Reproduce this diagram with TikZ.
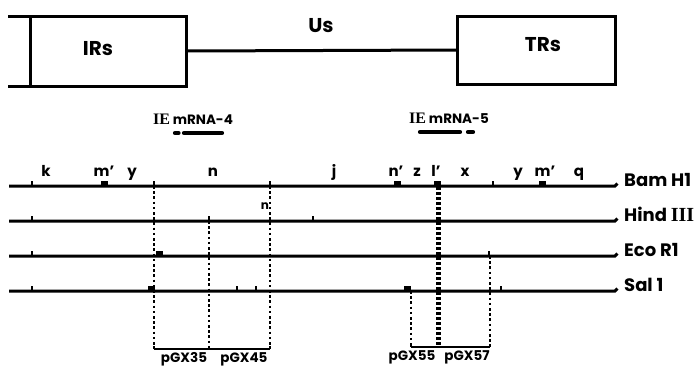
\documentclass[tikz,border=0pt]{standalone}
\usepackage{fontspec}
\setsansfont{Poppins}
\newfontfamily\romnum{Liberation Serif}
\begin{document}
\begin{tikzpicture}[x=1pt,y=-1pt,
  box/.style={draw, line width=3pt, inner sep=0pt, outer sep=0pt},
  bigtxt/.style={font=\sffamily\bfseries\fontsize{20}{20}\selectfont, inner sep=0pt},
  enzyme/.style={font=\sffamily\bfseries\fontsize{18}{18}\selectfont, inner sep=0pt, anchor=base west},
  frag/.style={font=\sffamily\bfseries\fontsize{15}{15}\selectfont, inner sep=0pt, anchor=base},
  clone/.style={font=\sffamily\bfseries\fontsize{13.5}{13.5}\selectfont, inner sep=0pt, anchor=base},
  small/.style={font=\sffamily\bfseries\fontsize{13.5}{13.5}\selectfont, inner sep=0pt, anchor=base},
  rail/.style={line width=3pt},
  tickmark/.style={line width=2.2pt},
  dots/.style={line width=2.6pt, dash pattern=on 2.6pt off 2.6pt},
  bigdots/.style={line width=5pt, dash pattern=on 3pt off 2pt},
  mrna/.style={line width=4.2pt, line cap=round}]
\useasboundingbox (0,0) rectangle (699,368);

% ---- genome: repeats and unique segment ----
\node[box, minimum width=156pt, minimum height=70pt] (IRs) at (108,51) {};
\node[box, minimum width=158pt, minimum height=68pt] (TRs) at (536,50) {};
\node[bigtxt] (IRsT) at (98,49) {IRs};
\node[bigtxt] (TRsT) at (543,45) {TRs};
\node[bigtxt, anchor=base] (Us) at (321,32) {Us};
\draw[line width=3pt] (IRs.east) -- (TRs.west);
\coordinate (t0) at (8,16);
\coordinate (b0) at (8,86);
\draw[line width=3pt] (t0) -- (IRs.north west);
\draw[line width=3pt] (b0) -- (IRs.south west);

% ---- IE transcripts ----
\node[small] (m4) at (193,124) {{\romnum\bfseries\fontsize{16}{16}\selectfont IE} mRNA-4};
\node[small] (m5) at (449,123) {{\romnum\bfseries\fontsize{16}{16}\selectfont IE} mRNA-5};
\coordinate (a1) at (175,133); \coordinate (a2) at (178.5,133);
\coordinate (a3) at (184,133); \coordinate (a4) at (222,133);
\coordinate (c1) at (420,132); \coordinate (c2) at (460,132);
\coordinate (c3) at (468,132); \coordinate (c4) at (473,132);
\draw[mrna] (a1) -- (a2);
\draw[mrna] (a3) -- (a4);
\draw[mrna] (c1) -- (c2);
\draw[mrna] (c3) -- (c4);

% ---- Bam H1 fragment names ----
\foreach \x/\t in {46/k, 104/m', 132/y, 213/n, 334/j, 396/n', 417/z, 436/l', 465/x, 518/y, 545/m', 579/q}
  \node[frag] at (\x,176) {\t};

% ---- restriction maps ----
\foreach \nm/\y/\lab in {bam/186/Bam H1, hind/221/Hind {\romnum\bfseries\fontsize{20}{20}\selectfont III}, eco/256/Eco R1, sal/291/Sal 1}{
  \coordinate (\nm L) at (9,\y);
  \coordinate (\nm R) at (615,\y);
  \coordinate (\nm E) at (617.5,\y-2.5);
  \draw[rail] (\nm L) -- (\nm R) -- (\nm E);
  \node[enzyme] (\nm T) at (624,\y) {\lab};
}

% single cut sites
\foreach \x/\y in {32/186, 154/186, 270/186, 493/186,
                   32/221, 209/221, 313/221,
                   32/256, 489/256,
                   32/291, 237/291, 256/291, 501/291}
  \draw[tickmark] (\x,\y) -- ++(0,-5.5);
% closely spaced site pairs
\foreach \x/\y in {104/186, 397/186, 437/186, 542/186,
                   159/256, 151/291, 407/291}
  \fill (\x-3.5,\y) rectangle ++(7,-5.5);

\node[font=\sffamily\bfseries\fontsize{12}{12}\selectfont, inner sep=0pt, anchor=base] (nn) at (265,209) {n};

% ---- cloned fragments ----
\coordinate (p1) at (154,349); \coordinate (p2) at (209,349); \coordinate (p3) at (270,349);
\coordinate (q1) at (411,347); \coordinate (q2) at (438,347); \coordinate (q3) at (490,347);
\draw[dots] (154,186) -- (p1);
\draw[dots] (209,221) -- (p2);
\draw[dots] (270,186) -- (p3);
\draw[dots] (411,291) -- (q1);
\draw[bigdots] (438,182) -- (q2);
\draw[dots] (490,256) -- (q3);
\draw[line width=2.6pt] (p1) -- (p3);
\draw[line width=2.6pt] (q1) -- (q3);
\draw[line width=2.2pt] (p1) -- ++(0,-3);
\draw[line width=2.2pt] (p3) -- ++(0,-3);
\draw[line width=2.2pt] (q1) -- ++(0,-3);
\draw[line width=2.2pt] (q3) -- ++(0,-3);

\node[clone] (g35) at (184,362) {pGX35};
\node[clone] (g45) at (244,362) {pGX45};
\node[clone] (g55) at (412,360) {pGX55};
\node[clone] (g57) at (467,360) {pGX57};
\end{tikzpicture}
\end{document}
